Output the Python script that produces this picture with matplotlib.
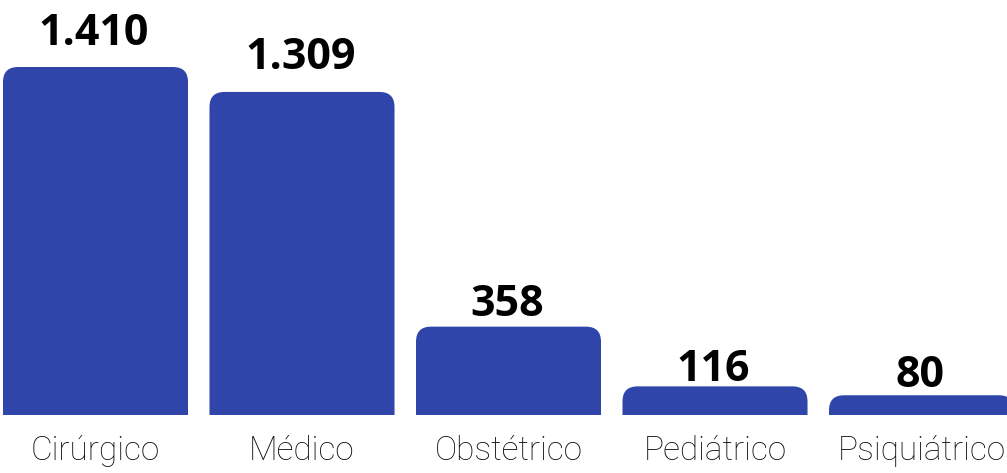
import matplotlib
matplotlib.use("Agg")
import matplotlib.pyplot as plt
from matplotlib.patches import FancyBboxPatch, Rectangle

# DATA
categories = ["Cirúrgico", "Médico", "Obstétrico", "Pediátrico", "Psiquiátrico"]
values = [1410, 1309, 358, 116, 80]
value_labels = ["1.410", "1.309", "358", "116", "80"]

BAR_COLOR = "#3045A9"

fig = plt.figure(figsize=(10.07, 4.73), dpi=100)
ax = fig.add_axes([0, 0, 1, 1])
ax.set_xlim(-0.4625, 4.414)
ax.set_ylim(-235, 1681.5)
ax.axis("off")

x = list(range(len(categories)))
bars = ax.bar(x, values, width=0.896, color=BAR_COLOR)

# rounded top corners: replace each bar with a rounded patch clipped at y=0
r = 0.073                 # x units (~15 px)
aspect = 60.8 / 0.073     # y units per x unit for same pixel radius
for b in bars:
    bx, by, bw, bh = b.get_x(), b.get_y(), b.get_width(), b.get_height()
    b.set_visible(False)
    ext = 80
    p = FancyBboxPatch((bx, by - ext), bw, bh + ext,
                       boxstyle=f"round,pad=0,rounding_size={r}",
                       mutation_aspect=aspect,
                       facecolor=BAR_COLOR, edgecolor="none")
    ax.add_patch(p)
    clip = Rectangle((bx, 0), bw, bh + 10, transform=ax.transData)
    p.set_clip_path(clip)

# value labels above bars (gap in pixels, baseline to bar top)
gaps = [22, 23, 11, 5, 8]
for xi, v, lab, g in zip(x, values, value_labels, gaps):
    ax.annotate(lab, (xi, v), xytext=(-1, g * 0.72), textcoords="offset points",
                ha="center", va="baseline", fontsize=31, fontweight="bold",
                family="Open Sans", color="black")

# category labels below
for xi, c in zip(x, categories):
    ax.text(xi, -183, c, ha="center", va="baseline", fontsize=24,
            family="Roboto", fontweight="light", color="#111111")

fig.savefig("out.png", dpi=100)
